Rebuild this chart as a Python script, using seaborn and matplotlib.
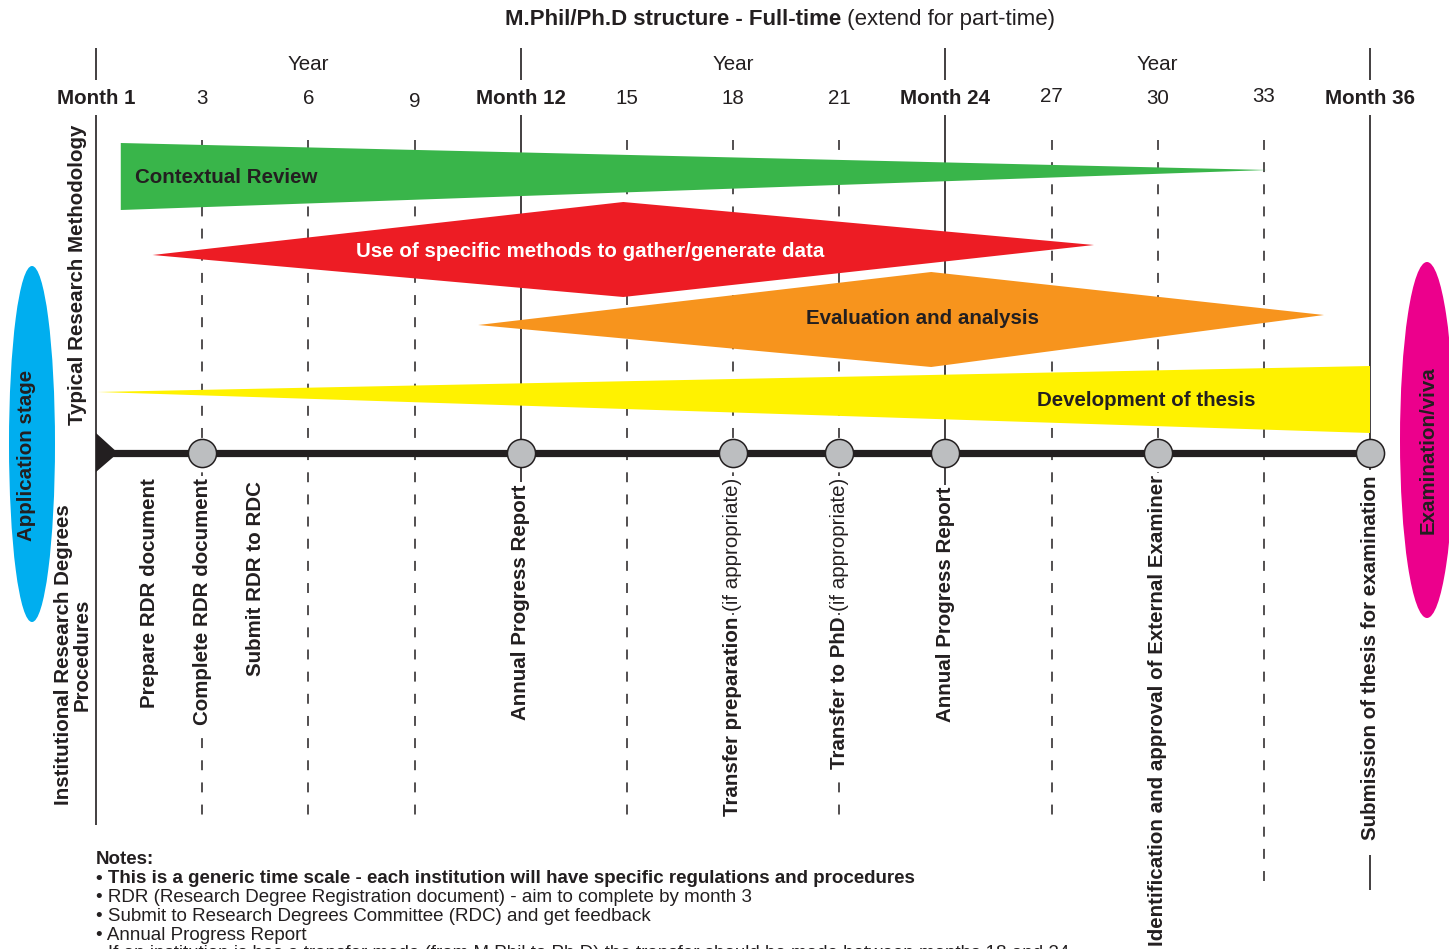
import matplotlib
matplotlib.use("Agg")
import matplotlib.pyplot as plt
import matplotlib.font_manager as fm
from matplotlib.patches import Ellipse, Polygon
import numpy as np
import pandas as pd
import seaborn as sns

# ---- chart data ----
tick_months = [0, 3, 6, 9, 12, 15, 18, 21, 24, 27, 30, 33, 36]
tick_labels = ["Month 1", "3", "6", "9", "Month 12", "15", "18", "21",
               "Month 24", "27", "30", "33", "Month 36"]
tick_bold = [True, False, False, False, True, False, False, False,
             True, False, False, False, True]
year_months = [6, 18, 30]
year_bounds = [0, 12, 24, 36]
dashed_months = [3, 6, 9, 15, 18, 21, 27, 30, 33]

activities = ["Contextual Review",
              "Use of specific methods to gather/generate data",
              "Evaluation and analysis",
              "Development of thesis"]
act_start = [0.7, 1.6, 10.8, 0.05]   # month where the shape begins
act_peak = [0.7, 14.9, 23.6, 36.0]   # month of widest point
act_end = [33.1, 28.2, 34.7, 36.0]   # month where the shape ends

milestones = [3, 12, 18, 21, 24, 30, 36]

procedures = ["Prepare RDR document", "Complete RDR document", "Submit RDR to RDC",
              "Annual Progress Report", "Transfer preparation", "Transfer to PhD",
              "Annual Progress Report", "Identification and approval of External Examiner",
              "Submission of thesis for examination"]
proc_month = [1.5, 3, 4.5, 12, 18, 21, 24, 30, 36]
proc_note = ["", "", "", "", "(if appropriate)", "(if appropriate)", "", "", ""]

notes = ["Notes:",
         "\u2022 This is a generic time scale - each institution will have specific regulations and procedures",
         "\u2022 RDR (Research Degree Registration document) - aim to complete by month 3",
         "\u2022 Submit to Research Degrees Committee (RDC) and get feedback",
         "\u2022 Annual Progress Report",
         "\u2022 If an institution is has a transfer mode (from M.Phil to Ph.D) the transfer should be made between months 18 and 24"]
notes_bold = [True, True, False, False, False, False]

# ---- layout (pixel rows from the top, months across) ----
W, H = 1449, 949
X0 = 96
PPM = (1370 - 96) / 36
INK = "#231f20"
FS = 14.8

def m(px):
    return (px - X0) / PPM

act_top = [143, 202, 272, 366]
act_bottom = [210, 297, 367, 433]
act_tip_start = [176, 255, 325, 392]
act_tip_end = [170, 245, 315, 433]
act_colors = ["#39b54a", "#ed1c24", "#f7941d", "#fff200"]
act_text_color = [INK, "white", INK, INK]
act_text_x = [m(135), m(590), m(923), m(1146)]
act_text_y = [177, 251, 319, 400]
act_text_ha = ["left", "center", "center", "center"]

TIMELINE_Y = 453
tick_dy = [0, 0, 0, 3, 0, 0, 0, 0, 0, -2, 0, -2, 0]
proc_top = [478, 478, 481, 484, 478, 478, 487, 475, 476]

sns.set_theme(style="white")
names = {f.name for f in fm.fontManager.ttflist}
plt.rcParams["font.family"] = ["Liberation Sans" if "Liberation Sans" in names else "DejaVu Sans"]

fig = plt.figure(figsize=(W / 100, H / 100), dpi=100)
ax = fig.add_axes([0, 0, 1, 1])

# title
ax.text(m(841), 25, "M.Phil/Ph.D structure - Full-time", ha="right", va="baseline",
        fontsize=16, fontweight="bold", color=INK)
ax.text(m(841), 25, " (extend for part-time)", ha="left", va="baseline",
        fontsize=16, color=INK)

# header
for b in year_bounds:
    ax.vlines(b, 48, 80, color=INK, lw=1.2)
for ym in year_months:
    ax.text(ym, 64, "Year", ha="center", va="center", fontsize=FS, color=INK)
for tm, lab, bold, dy in zip(tick_months, tick_labels, tick_bold, tick_dy):
    ax.text(tm, 98.5 + dy, lab, ha="center", va="center", fontsize=FS,
            fontweight="bold" if bold else "normal", color=INK)

# guide lines
for dm in dashed_months:
    ax.vlines(dm, 140, 890 if dm == 33 else 825, color=INK, lw=1.1,
              linestyles=(0, (6.5, 8)), zorder=1)
ax.vlines(0, 115, 825, color=INK, lw=1.2, zorder=1)
ax.vlines([12, 24], 115, 490, color=INK, lw=1.2, zorder=1)
ax.vlines(36, 115, 470, color=INK, lw=1.2, zorder=1)
ax.vlines(36, 855, 890, color=INK, lw=1.2, zorder=1)

# activity shapes
for i, name in enumerate(activities):
    pts = [(act_start[i], act_tip_start[i]), (act_peak[i], act_top[i]),
           (act_end[i], act_tip_end[i]), (act_peak[i], act_bottom[i])]
    ax.add_patch(Polygon(pts, closed=True, facecolor=act_colors[i],
                         edgecolor="none", zorder=2))
    ax.text(act_text_x[i], act_text_y[i], name, ha=act_text_ha[i], va="center",
            fontsize=FS, fontweight="bold", color=act_text_color[i], zorder=3)

# timeline
ax.hlines(TIMELINE_Y, 0, 36, color=INK, lw=5.2, zorder=4)
ax.add_patch(Polygon([(0, 433), (0, 472), (m(118), TIMELINE_Y)], closed=True,
                     facecolor=INK, edgecolor="none", zorder=4))
ms = pd.DataFrame({"month": milestones, "y": [TIMELINE_Y] * len(milestones)})
sns.scatterplot(data=ms, x="month", y="y", s=410, color="#bcbec0",
                edgecolor=INK, linewidth=1.1, zorder=5, ax=ax, legend=False)

# procedure labels
box = dict(facecolor="white", edgecolor="none", pad=1.5)
for pm, lab, note, top in zip(proc_month, procedures, proc_note, proc_top):
    if note:
        t = ax.text(pm, top, note, rotation=90, ha="center", va="top",
                    fontsize=FS, color=INK, bbox=box, zorder=3)
        ax.annotate(lab, xy=(0.5, 0), xycoords=t, xytext=(0, -4),
                    textcoords="offset points", rotation=90, ha="center", va="top",
                    fontsize=FS, fontweight="bold", color=INK, bbox=box, zorder=3)
    else:
        ax.text(pm, top, lab, rotation=90, ha="center", va="top", fontsize=FS,
                fontweight="bold", color=INK, bbox=box, zorder=3)

# side labels
ax.text(m(78), 275, "Typical Research Methodology", rotation=90, ha="center",
        va="center", fontsize=FS, fontweight="bold", color=INK)
ax.text(m(73), 655, "Institutional Research Degrees\nProcedures", rotation=90,
        ha="center", va="center", multialignment="center", linespacing=1.0,
        fontsize=FS, fontweight="bold", color=INK)
ax.add_patch(Ellipse((m(32), 444), 46 / PPM, 356, facecolor="#00aeef",
                     edgecolor="none", zorder=2))
ax.text(m(27), 455, "Application stage", rotation=90, ha="center", va="center",
        fontsize=FS, fontweight="bold", color=INK, zorder=3)
ax.add_patch(Ellipse((m(1427), 440), 54 / PPM, 356, facecolor="#ec008c",
                     edgecolor="none", zorder=2))
ax.text(m(1428), 450, "Examination/viva", rotation=90, ha="center", va="center",
        fontsize=FS, fontweight="bold", color=INK, zorder=3)

# notes
for k, (line, bold) in enumerate(zip(notes, notes_bold)):
    ax.text(0, 860 + 18.8 * k, line, ha="left", va="center", fontsize=13.5,
            fontweight="bold" if bold else "normal", color=INK)

ax.set_xlim(m(0), m(W))
ax.set_ylim(H, 0)
ax.set_axis_off()
fig.savefig("out.png", dpi=100)
